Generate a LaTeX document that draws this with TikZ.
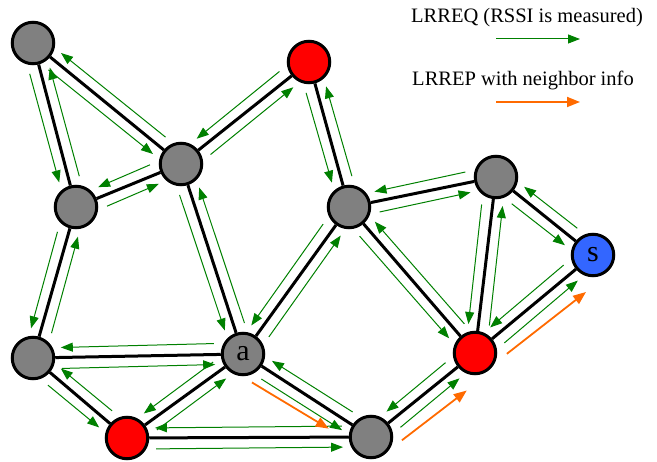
\documentclass[tikz,border=0pt]{standalone}
\usepackage{fontspec}
\setmainfont{Liberation Serif}
\usetikzlibrary{arrows.meta,calc}
\definecolor{ngray}{RGB}{128,128,128}
\definecolor{nred}{RGB}{255,0,0}
\definecolor{nblue}{RGB}{51,102,255}
\definecolor{agreen}{RGB}{0,128,0}
\definecolor{aorange}{RGB}{255,106,0}
% one arrow from #2 to #3: start #4 from #2 with side offset #5, end #6 from #3 with side offset #7
\newcommand\sidearrow[7]{\draw[#1] ($(#2)!#4!(#3)!#5!-90:(#3)$) -- ($(#3)!#6!(#2)!#7!90:(#2)$);}
\newcommand\gpair[2]{\sidearrow{garr}{#1}{#2}{29pt}{11pt}{28pt}{10pt}\sidearrow{garr}{#2}{#1}{29pt}{11pt}{28pt}{10pt}}
\begin{document}
\begin{tikzpicture}[x=1pt,y=-1pt,
  nodebase/.style={circle,draw=black,line width=3pt,minimum size=41.5pt,inner sep=0pt,font=\fontsize{30}{30}\selectfont},
  graynode/.style={nodebase,fill=ngray},
  rednode/.style={nodebase,fill=nred},
  bluenode/.style={nodebase,fill=nblue},
  edge/.style={draw=black,line width=3pt},
  garr/.style={draw=agreen,line width=1pt,-{Triangle[length=12pt,width=9pt]}},
  oarr/.style={draw=aorange,line width=1.8pt,-{Triangle[length=13pt,width=10pt]}},
  legend/.style={font=\fontsize{20.5}{24}\selectfont,inner sep=0pt}]
\useasboundingbox (0,0) rectangle (657,462);
% nodes
\node[graynode] (n1) at (33,43) {};
\node[rednode] (n2) at (309,62) {};
\node[graynode] (n3) at (181,164) {};
\node[graynode] (n4) at (76,207) {};
\node[graynode] (n5) at (349,207) {};
\node[graynode] (n6) at (496,177) {};
\node[bluenode] (s) at (593,255) {s};
\node[graynode] (n8) at (33,358) {};
\node[graynode] (a) at (243,354) {a};
\node[rednode] (n10) at (475,353) {};
\node[rednode] (n11) at (127,438) {};
\node[graynode] (n12) at (371,437) {};
% edges
\foreach \u/\v in {n1/n3,n1/n4,n3/n2,n3/n4,n2/n5,n3/a,n4/n8,n8/a,n8/n11,n11/a,n11/n12,a/n12,a/n5,n5/n6,n5/n10,n6/n10,n6/s,n10/s,n12/n10}
  \draw[edge] (\u) -- (\v);
% green arrows (LRREQ)
\gpair{n1}{n3}
\gpair{n1}{n4}
\gpair{n3}{n2}
\gpair{n3}{n4}
\gpair{n2}{n5}
\gpair{n3}{a}
\gpair{n4}{n8}
\gpair{n8}{a}
\gpair{n8}{n11}
\gpair{n11}{a}
\gpair{n11}{n12}
\gpair{a}{n12}
\gpair{a}{n5}
\gpair{n5}{n6}
\gpair{n5}{n10}
\gpair{n6}{n10}
\gpair{n6}{s}
\gpair{n10}{s}
\gpair{n12}{n10}
% orange arrows (LRREP)
\sidearrow{oarr}{a}{n12}{23pt}{19pt}{40pt}{16pt}
\sidearrow{oarr}{n12}{n10}{22pt}{22pt}{30pt}{24pt}
\sidearrow{oarr}{n10}{s}{24pt}{21pt}{29pt}{24pt}
% legend
\node[legend] (l1) at (527,18) {LRREQ (RSSI is measured)};
\node[legend] (l2) at (523,80) {LRREP with neighbor info};
\coordinate (l1s) at (496,39);
\coordinate (l1e) at (580,39);
\coordinate (l2s) at (496,102);
\coordinate (l2e) at (580,102);
\draw[garr] (l1s) -- (l1e);
\draw[oarr] (l2s) -- (l2e);
\end{tikzpicture}
\end{document}
